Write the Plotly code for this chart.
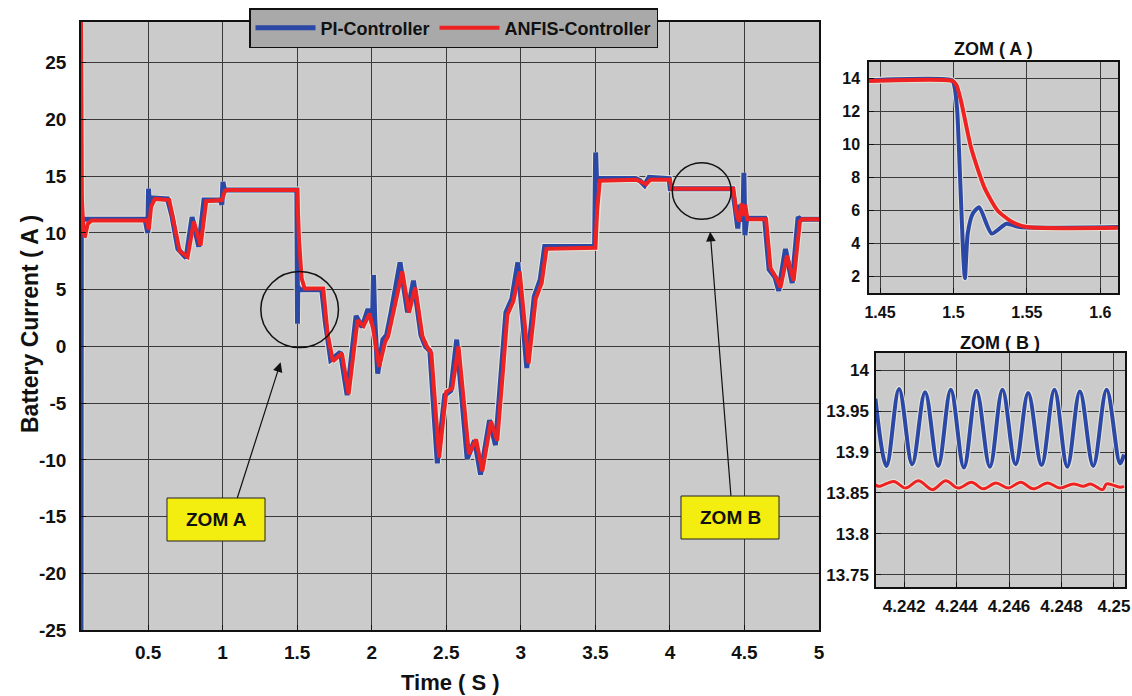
import plotly.graph_objects as go

# ---- main trace: battery current, PI vs ANFIS controller ----
pi_points = [
    (0.050, -26.0), (0.050, 1.5), (0.052, 11.8), (0.056, 11.2), (0.480, 11.2),
    (0.498, 10.0), (0.503, 13.9), (0.508, 12.6), (0.520, 13.1), (0.630, 13.0),
    (0.660, 11.5), (0.700, 8.6), (0.755, 7.8), (0.795, 11.4), (0.840, 8.8),
    (0.875, 12.9), (0.985, 12.9), (0.995, 12.5), (1.002, 14.5), (1.012, 13.8),
    (1.498, 13.8), (1.501, 5.0), (1.502, 2.0), (1.504, 5.3), (1.515, 5.0),
    (1.665, 5.0), (1.690, 2.0), (1.725, -1.2), (1.745, -1.0), (1.790, -0.5),
    (1.835, -4.3), (1.895, 2.7), (1.935, 1.7), (1.975, 3.3), (2.005, 2.0),
    (2.012, 6.3), (2.020, 2.5), (2.040, -2.4), (2.075, 0.6), (2.100, 1.0),
    (2.130, 3.0), (2.190, 7.4), (2.240, 3.0), (2.280, 5.8), (2.330, 1.0),
    (2.360, 0.0), (2.390, -0.4), (2.440, -10.3), (2.490, -4.3), (2.530, -3.9),
    (2.570, 0.6), (2.640, -9.9), (2.690, -8.3), (2.730, -11.3), (2.790, -6.5),
    (2.830, -8.7), (2.870, -2.0), (2.900, 3.0), (2.940, 4.2), (2.980, 7.4),
    (3.040, -1.9), (3.090, 4.4), (3.130, 5.9), (3.160, 8.8), (3.495, 8.8),
    (3.502, 17.1), (3.508, 14.5), (3.520, 14.8), (3.770, 14.8), (3.800, 14.6),
    (3.830, 14.2), (3.860, 14.9), (3.995, 14.8), (4.002, 13.9), (4.420, 13.9),
    (4.440, 12.0), (4.455, 10.4), (4.470, 12.5), (4.490, 11.0), (4.496, 15.3),
    (4.503, 9.8), (4.515, 11.3), (4.635, 11.3), (4.665, 6.8), (4.705, 6.1),
    (4.730, 4.9), (4.775, 8.6), (4.820, 5.6), (4.860, 11.4), (4.875, 11.2),
    (5.000, 11.2),
]

anfis_points = [
    (0.050, 30.0), (0.052, 20.0), (0.056, 13.0), (0.065, 10.5), (0.075, 9.6),
    (0.095, 10.8), (0.120, 11.1), (0.490, 11.1), (0.505, 10.3), (0.520, 12.3),
    (0.545, 13.0), (0.642, 12.9), (0.672, 11.0), (0.712, 8.4), (0.765, 7.9),
    (0.807, 11.0), (0.852, 8.9), (0.890, 12.8), (0.995, 12.9), (1.015, 13.7),
    (1.030, 13.8), (1.500, 13.8), (1.512, 9.5), (1.530, 6.0), (1.550, 5.1),
    (1.675, 5.1), (1.705, 1.0), (1.740, -1.3), (1.800, -0.6), (1.845, -4.2),
    (1.905, 2.3), (1.945, 1.8), (1.985, 2.9), (2.010, 1.5), (2.050, -1.8),
    (2.090, 0.4), (2.110, 0.9), (2.140, 2.8), (2.205, 6.6), (2.250, 3.0),
    (2.292, 5.2), (2.340, 0.9), (2.370, 0.0), (2.400, -0.6), (2.452, -9.8),
    (2.500, -4.0), (2.540, -3.7), (2.582, 0.0), (2.652, -9.5), (2.700, -8.2),
    (2.742, -11.0), (2.800, -6.6), (2.842, -8.3), (2.880, -2.2), (2.910, 2.8),
    (2.950, 4.0), (2.992, 6.6), (3.052, -1.5), (3.100, 4.2), (3.140, 5.6),
    (3.172, 8.6), (3.500, 8.7), (3.512, 12.0), (3.530, 14.6), (3.775, 14.7),
    (3.810, 14.5), (3.840, 14.3), (3.870, 14.7), (4.000, 14.7), (4.012, 13.9),
    (4.425, 13.9), (4.450, 11.5), (4.465, 11.0), (4.480, 12.6), (4.495, 11.5),
    (4.505, 12.5), (4.520, 11.2), (4.645, 11.2), (4.675, 6.9), (4.715, 6.0),
    (4.742, 5.2), (4.785, 8.0), (4.830, 5.8), (4.872, 11.0), (4.885, 11.2),
    (5.000, 11.2),
]

# ---- zoom A: step change at t = 1.5 s ----
zoom_a_pi = [
    (1.4425, 13.9), (1.4990, 13.9), (1.5005, 13.6), (1.5025, 12.1), (1.5046, 7.8),
    (1.5066, 3.4), (1.5078, 1.9), (1.5097, 4.6), (1.5131, 5.8),
    (1.5175, 6.2), (1.5260, 4.6), (1.5360, 5.2), (1.5450, 5.0), (1.612, 5.0),
]
zoom_a_anfis = [
    (1.4425, 13.85), (1.4995, 13.85), (1.5020, 13.6), (1.5050, 12.7), (1.5120, 9.8),
    (1.5210, 7.4), (1.5300, 6.0), (1.5400, 5.3), (1.5500, 5.0), (1.612, 4.95),
]

# ---- zoom B: steady-state ripple near t = 4.246 s ----
zoom_b_pi_t = [4.24091, 4.24133, 4.24181, 4.24231, 4.24280, 4.24330, 4.24378,
               4.24428, 4.24476, 4.24527, 4.24575, 4.24625, 4.24673, 4.24724,
               4.24773, 4.24822, 4.24870, 4.24921, 4.24972, 4.25023, 4.25038]
zoom_b_pi_i = [13.965, 13.883, 13.977, 13.885, 13.973, 13.883, 13.976,
               13.881, 13.975, 13.882, 13.976, 13.885, 13.972, 13.884,
               13.976, 13.882, 13.974, 13.883, 13.976, 13.886, 13.897]
zoom_b_anfis_t = [4.24091, 4.24105, 4.24161, 4.24206, 4.24255, 4.24308, 4.24359,
                  4.24406, 4.24457, 4.24502, 4.24550, 4.24597, 4.24645, 4.24692,
                  4.24747, 4.24794, 4.24845, 4.24883, 4.24911, 4.24957, 4.24972,
                  4.25023, 4.25038]
zoom_b_anfis_i = [13.860, 13.858, 13.864, 13.856, 13.865, 13.854, 13.865,
                  13.856, 13.863, 13.855, 13.862, 13.856, 13.863, 13.855,
                  13.862, 13.856, 13.861, 13.858, 13.861, 13.854, 13.861,
                  13.857, 13.858]

main_xticks = [0.5, 1, 1.5, 2, 2.5, 3, 3.5, 4, 4.5, 5]
main_yticks = [-25, -20, -15, -10, -5, 0, 5, 10, 15, 20, 25]
zoom_a_xticks = [1.45, 1.5, 1.55, 1.6]
zoom_a_yticks = [2, 4, 6, 8, 10, 12, 14]
zoom_b_xticks = [4.242, 4.244, 4.246, 4.248, 4.25]
zoom_b_yticks = [13.75, 13.8, 13.85, 13.9, 13.95, 14.0]

BLUE = "#2c48a6"
RED = "#ee2222"
HALO = "#e4e4d8"
FONT = "Liberation Sans, Arial, sans-serif"
W, H = 1132, 696


def px(x):
    return x / W


def py(y):
    return 1 - y / H


def unzip(points):
    return [p[0] for p in points], [p[1] for p in points]


def fmt(v):
    return ("%g" % v)


fig = go.Figure()


def add_pair(curves, xa, ya, shape="linear", smoothing=1.0):
    """Draw a pale rim under every curve of a panel first, then the curves."""
    line_kw = dict(shape=shape)
    if shape == "spline":
        line_kw["smoothing"] = smoothing
    for x, y, color, width, name in curves:
        fig.add_trace(go.Scatter(x=x, y=y, mode="lines", showlegend=False, hoverinfo="skip",
                                 line=dict(color=HALO, width=width + 2, **line_kw),
                                 xaxis=xa, yaxis=ya))
    for x, y, color, width, name in curves:
        fig.add_trace(go.Scatter(x=x, y=y, mode="lines", name=name,
                                 showlegend=name is not None,
                                 line=dict(color=color, width=width, **line_kw),
                                 xaxis=xa, yaxis=ya))


pi_t, pi_i = unzip(pi_points)
an_t, an_i = unzip(anfis_points)
add_pair([(pi_t, pi_i, BLUE, 5, "PI-Controller"),
          (an_t, an_i, RED, 4, "ANFIS-Controller")], "x", "y")

za_t, za_i = unzip(zoom_a_pi)
zb_t, zb_i = unzip(zoom_a_anfis)
add_pair([(za_t, za_i, BLUE, 4, None), (zb_t, zb_i, RED, 4, None)],
         "x2", "y2", shape="spline", smoothing=0.6)

add_pair([(zoom_b_pi_t, zoom_b_pi_i, BLUE, 4, None),
          (zoom_b_anfis_t, zoom_b_anfis_i, RED, 3, None)],
         "x3", "y3", shape="spline", smoothing=1.0)

main_tick_font = dict(family=FONT, size=19, color="#111111", weight="bold")
a_tick_font = dict(family=FONT, size=16, color="#111111", weight="bold")
b_tick_font = dict(family=FONT, size=17, color="#111111", weight="bold")


def axis_style(font, standoff):
    return dict(showgrid=True, gridcolor="#3a3a3a", gridwidth=1,
                showline=True, linecolor="#111111", linewidth=1.5, mirror=True,
                ticks="inside", ticklen=5, tickcolor="#111111",
                zeroline=False, tickfont=font, ticklabelstandoff=standoff,
                automargin=False)


fig.update_layout(
    width=W, height=H,
    margin=dict(l=0, r=0, t=0, b=0),
    paper_bgcolor="white",
    plot_bgcolor="#cbcbcb",
    showlegend=True,
    legend=dict(orientation="h", x=px(249), y=py(8), xanchor="left", yanchor="top",
                bgcolor="#a9a9a9", bordercolor="#111111", borderwidth=1.5,
                font=dict(family=FONT, size=18, color="#111111", weight="bold"),
                itemwidth=60, tracegroupgap=0),
    xaxis=dict(domain=[px(81), px(819)], range=[0.05, 5.0],
               tickvals=main_xticks, ticktext=[fmt(v) for v in main_xticks],
               anchor="y", **axis_style(main_tick_font, 4)),
    yaxis=dict(domain=[py(630), py(22)], range=[-25, 28.6],
               tickvals=main_yticks, ticktext=[fmt(v) for v in main_yticks],
               anchor="x", **axis_style(main_tick_font, 9)),
    xaxis2=dict(domain=[px(869), px(1118)], range=[1.4425, 1.612],
                tickvals=zoom_a_xticks, ticktext=[fmt(v) for v in zoom_a_xticks],
                anchor="y2", **axis_style(a_tick_font, 4)),
    yaxis2=dict(domain=[py(293), py(62)], range=[1.0, 15.0],
                tickvals=zoom_a_yticks, ticktext=[fmt(v) for v in zoom_a_yticks],
                anchor="x2", **axis_style(a_tick_font, 4)),
    xaxis3=dict(domain=[px(876), px(1125)], range=[4.24093, 4.25042],
                tickvals=zoom_b_xticks, ticktext=[fmt(v) for v in zoom_b_xticks],
                anchor="y3", **axis_style(b_tick_font, 3)),
    yaxis3=dict(domain=[py(587), py(353)], range=[13.735, 14.021],
                tickvals=zoom_b_yticks, ticktext=[fmt(v) for v in zoom_b_yticks],
                anchor="x3", **axis_style(b_tick_font, 2)),
)

# zoom markers on the main axes
fig.add_shape(type="circle", xref="x", yref="y", x0=1.256, x1=1.777, y0=-0.1, y1=6.6,
              line=dict(color="#111111", width=1.5))
fig.add_shape(type="circle", xref="x", yref="y", x0=4.016, x1=4.411, y0=11.2, y1=16.2,
              line=dict(color="#111111", width=1.5))

# labelled boxes
for label, (x0, x1, y0, y1) in [("ZOM A", (167, 265, 498, 541)),
                                ("ZOM B", (681, 779, 496, 539))]:
    fig.add_shape(type="rect", xref="paper", yref="paper",
                  x0=px(x0), x1=px(x1), y0=py(y1), y1=py(y0),
                  fillcolor="#f4ee10", line=dict(color="#222222", width=1))
    fig.add_annotation(xref="paper", yref="paper", x=px((x0 + x1) / 2), y=py((y0 + y1) / 2),
                       text=label, showarrow=False, xanchor="center", yanchor="middle",
                       font=dict(family=FONT, size=19, color="#111111", weight="bold"))

# arrows from the boxes to the circles
fig.add_annotation(xref="x", yref="y", axref="x", ayref="y",
                   x=1.389, y=-1.4, ax=1.095, ay=-13.5, text="", showarrow=True,
                   arrowhead=2, arrowsize=1.6, arrowwidth=1.2, arrowcolor="#111111")
fig.add_annotation(xref="x", yref="y", axref="x", ayref="y",
                   x=4.27, y=10.1, ax=4.41, ay=-13.3, text="", showarrow=True,
                   arrowhead=2, arrowsize=1.6, arrowwidth=1.2, arrowcolor="#111111")

# axis titles and inset titles
fig.add_annotation(xref="paper", yref="paper", x=px(30), y=py(324),
                   text="Battery Current ( A )", textangle=-90, showarrow=False,
                   xanchor="center", yanchor="middle",
                   font=dict(family=FONT, size=23, color="#111111", weight="bold"))
fig.add_annotation(xref="paper", yref="paper", x=px(450), y=py(682),
                   text="Time ( S )", showarrow=False, xanchor="center", yanchor="middle",
                   font=dict(family=FONT, size=22, color="#111111", weight="bold"))
fig.add_annotation(xref="paper", yref="paper", x=px(993), y=py(49),
                   text="ZOM ( A )", showarrow=False, xanchor="center", yanchor="middle",
                   font=dict(family=FONT, size=18, color="#111111", weight="bold"))
fig.add_annotation(xref="paper", yref="paper", x=px(1000), y=py(343),
                   text="ZOM ( B )", showarrow=False, xanchor="center", yanchor="middle",
                   font=dict(family=FONT, size=18, color="#111111", weight="bold"))

fig.write_html("out.html")
